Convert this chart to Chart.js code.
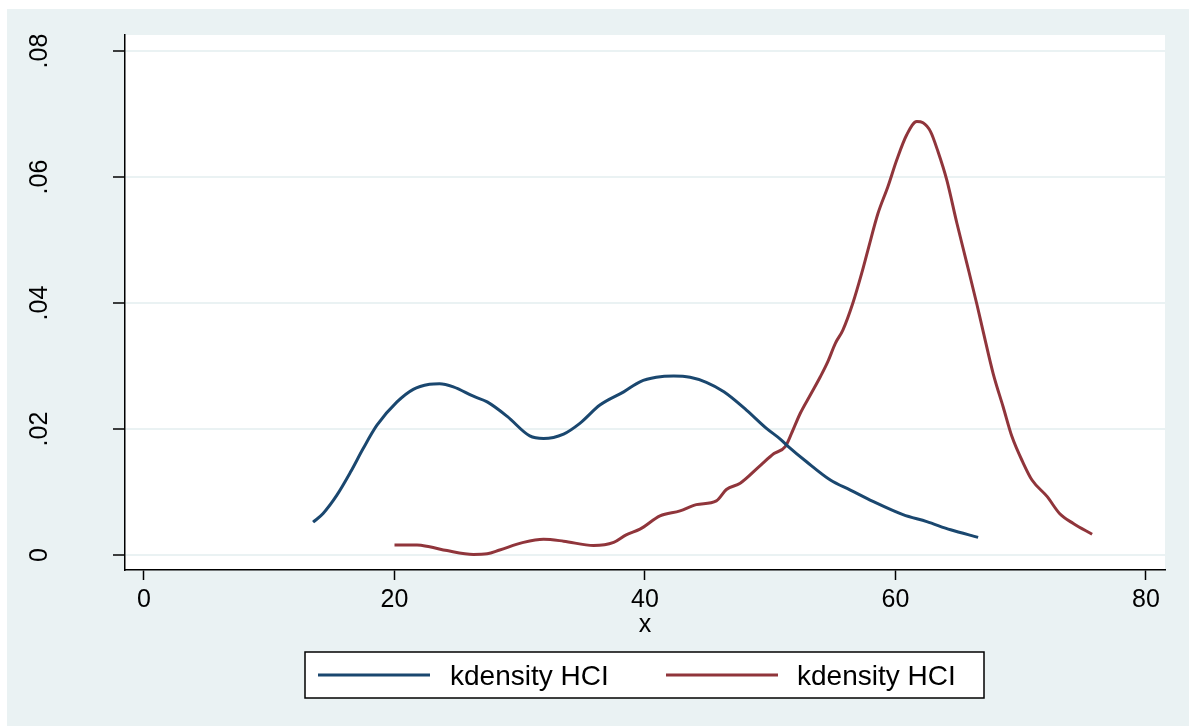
<!DOCTYPE html>
<html>
<head>
<meta charset="utf-8">
<script src="https://cdn.jsdelivr.net/npm/chart.js@4"></script>
<style>
  body { margin: 0; background: #fff; }
  canvas { display: block; }
</style>
</head>
<body>
<canvas id="myChart" width="1189" height="726"></canvas>
<script>
// kdensity curves
const blueX = [13.5, 14.3, 15.4, 16.5, 17.5, 18.6, 20.2, 21.5, 22.8, 23.6, 24.7, 26.3, 27.4, 29.0, 30.8, 31.9, 33.5, 34.8, 36.4, 38.3,
               39.6, 40.9, 42.3, 43.6, 44.9, 46.3, 48.1, 49.7, 50.8, 51.4, 52.9, 54.8, 56.4, 58.2, 60.6, 62.5, 64.4, 66.6];
const blueY = [.0052, .0066, .0095, .0132, .0169, .0206, .0243, .0263, .0271, .0272, .0267, .0252, .0243, .0220, .0189, .0185, .0192, .0209, .0238, .0259,
               .0275, .0282, .0284, .0282, .0274, .0259, .0230, .0201, .0184, .0173, .0148, .0119, .0103, .0085, .0064, .0053, .0040, .0028];

const redX = [20.0, 21.8, 22.8, 24.2, 26.3, 27.4, 28.4, 30.3, 31.9, 33.5, 35.9, 37.5, 38.5, 39.6, 41.2, 42.8, 44.1, 45.7, 46.5, 47.6,
              49.2, 50.3, 51.2, 51.7, 52.4, 53.2, 54.0, 54.6, 55.2, 55.8, 56.6, 57.3, 57.8, 58.6, 59.4, 60.1, 60.9, 61.7, 62.2, 62.8,
              63.4, 64.1, 64.9, 65.7, 66.5, 67.0, 67.8, 68.6, 69.3, 70.2, 70.9, 72.1, 73.1, 74.2, 75.7];
const redY = [.0016, .0016, .0013, .0007, .0001, .0002, .0008, .0020, .0025, .0022, .0015, .0020, .0032, .0041, .0062, .0070, .0080, .0086, .0104, .0114,
              .0142, .0161, .0172, .0193, .0225, .0254, .0283, .0307, .0336, .0357, .0400, .0447, .0484, .0542, .0585, .0627, .0667, .0688, .0686, .0672,
              .0640, .0595, .0527, .0463, .0398, .0355, .0288, .0235, .0188, .0146, .0119, .0093, .0066, .0050, .0033];

const seriesLabels = ['kdensity HCI', 'kdensity HCI'];
const xTicks = [0, 20, 40, 60, 80];
const yTicks = [0, 0.02, 0.04, 0.06, 0.08];
const yTickLabels = ['0', '.02', '.04', '.06', '.08'];

const FONT = "'Liberation Sans', Arial, sans-serif";
const BG = '#eaf2f3';

const toPoints = (xs, ys) => xs.map((x, i) => ({ x: x, y: ys[i] }));

// stata-ish backdrop: white margin, light blue graph region, white plot region
const backdrop = {
    id: 'backdrop',
    beforeDraw(chart) {
        const c = chart.ctx, a = chart.chartArea;
        c.save();
        c.fillStyle = '#fff';
        c.fillRect(0, 0, chart.width, chart.height);
        c.fillStyle = BG;
        c.fillRect(7, 9, chart.width - 7, chart.height - 9);
        c.fillStyle = '#fff';
        c.fillRect(a.left, a.top, a.right - a.left, a.bottom - a.top);
        c.restore();
    }
};

// boxed legend under the x title
const boxLegend = {
    id: 'boxLegend',
    afterDraw(chart) {
        const c = chart.ctx;
        const sets = chart.data.datasets;
        c.save();
        c.fillStyle = '#fff';
        c.fillRect(305, 652, 679, 46);
        c.strokeStyle = '#000';
        c.lineWidth = 1.5;
        c.strokeRect(305, 652, 679, 46);
        const lineX = [318, 666];
        const textX = [450, 797];
        sets.forEach((ds, i) => {
            c.strokeStyle = ds.borderColor;
            c.lineWidth = 3;
            c.beginPath();
            c.moveTo(lineX[i], 675);
            c.lineTo(lineX[i] + 112, 675);
            c.stroke();
            c.fillStyle = '#000';
            c.font = '28px ' + FONT;
            c.textBaseline = 'alphabetic';
            c.fillText(ds.label, textX[i], 685);
        });
        c.restore();
    }
};

const ctx = document.getElementById('myChart').getContext('2d');
let myChart = new Chart(ctx, {
    type: 'line',
    data: {
        datasets: [
            {
                label: seriesLabels[0],
                data: toPoints(blueX, blueY),
                borderColor: '#1a476f',
                borderWidth: 3,
                pointRadius: 0,
                cubicInterpolationMode: 'monotone'
            },
            {
                label: seriesLabels[1],
                data: toPoints(redX, redY),
                borderColor: '#90353b',
                borderWidth: 3,
                pointRadius: 0,
                cubicInterpolationMode: 'monotone'
            }
        ]
    },
    options: {
        responsive: false,
        animation: false,
        layout: { padding: { left: 7, top: 35, right: 24, bottom: 86 } },
        plugins: {
            legend: { display: false },
            tooltip: { enabled: false }
        },
        scales: {
            x: {
                type: 'linear',
                min: -1.517,
                max: 81.52,
                afterFit: s => { s.height = 70; s.paddingLeft = 0; s.paddingRight = 0; },
                afterBuildTicks: s => { s.ticks = xTicks.map(v => ({ value: v })); },
                grid: { drawOnChartArea: false, tickLength: 10, tickColor: '#000', tickWidth: 1.5 },
                border: { color: '#000', width: 1.5 },
                ticks: {
                    color: '#000',
                    font: { family: FONT, size: 25 },
                    padding: 5,
                    maxRotation: 0,
                    callback: v => String(v)
                },
                title: {
                    display: true,
                    text: 'x',
                    color: '#000',
                    font: { family: FONT, size: 25 },
                    padding: 0
                }
            },
            y: {
                min: -0.00238,
                max: 0.08254,
                afterFit: s => { s.width = 118; s.paddingTop = 0; s.paddingBottom = 0; },
                afterBuildTicks: s => { s.ticks = yTicks.map(v => ({ value: v })); },
                grid: { color: BG, lineWidth: 2, tickLength: 12, tickColor: '#000', tickWidth: 1.5 },
                border: { color: '#000', width: 1.5 },
                ticks: {
                    color: '#000',
                    font: { family: FONT, size: 25 },
                    minRotation: 90,
                    maxRotation: 90,
                    crossAlign: 'center',
                    padding: 56,
                    callback: v => yTickLabels[yTicks.indexOf(v)]
                }
            }
        }
    },
    plugins: [backdrop, boxLegend]
});
</script>
</body>
</html>
